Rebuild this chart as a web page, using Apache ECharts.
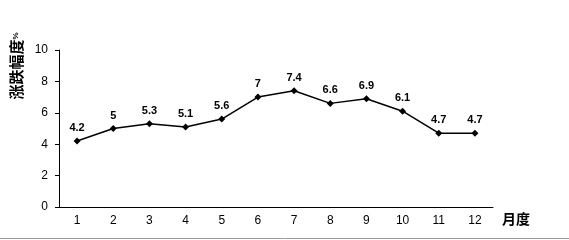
<!DOCTYPE html>
<html><head><meta charset="utf-8">
<script src="https://cdn.jsdelivr.net/npm/echarts@6/dist/echarts.min.js"></script>
<style>html,body{margin:0;padding:0;background:#fff}#c{width:569px;height:240px}</style>
</head><body><div id="c"></div>
<script>
var categories = ['1','2','3','4','5','6','7','8','9','10','11','12'];
var values = [4.2, 5, 5.3, 5.1, 5.6, 7, 7.4, 6.6, 6.9, 6.1, 4.7, 4.7];
var yTicks = [0, 2, 4, 6, 8, 10];
var yNameMain = '涨跌幅度';
var yNameUnit = '%';
var xName = '月度';

var chart = echarts.init(document.getElementById('c'));
chart.setOption({
  backgroundColor: '#fff',
  animation: false,
  grid: {left: 59, right: 76, top: 50, bottom: 33},
  xAxis: {
    type: 'category', data: categories, boundaryGap: true,
    axisLine: {lineStyle: {color: '#000', width: 1}},
    axisTick: {inside: true, length: 4, alignWithLabel: false, lineStyle: {color: '#000'}},
    axisLabel: {color: '#000', fontSize: 12, fontFamily: 'Liberation Sans', margin: 8}
  },
  yAxis: {
    type: 'value', min: yTicks[0], max: yTicks[yTicks.length-1], interval: 2,
    axisLine: {show: true, lineStyle: {color: '#000', width: 1}},
    axisTick: {show: true, inside: false, length: 4, lineStyle: {color: '#000'}},
    splitLine: {show: false},
    axisLabel: {color: '#000', fontSize: 12, fontFamily: 'Liberation Sans', margin: 11}
  },
  series: [{
    type: 'line', data: values,
    symbol: 'diamond', symbolSize: 7,
    lineStyle: {color: '#000', width: 1.5},
    itemStyle: {color: '#000'},
    label: {show: true, position: 'top', distance: 4, color: '#000', fontSize: 11, fontWeight: 'bold', fontFamily: 'Liberation Sans'}
  }],
  graphic: [
    {type: 'text', x: 16, y: 66, rotation: Math.PI/2,
     style: {text: '{a|' + yNameMain + '}{b|' + yNameUnit + '}', fill: '#000', align: 'center', verticalAlign: 'middle',
       rich: {a: {font: 'bold 15px "Noto Sans CJK SC"', fill: '#000'}, b: {font: 'bold 8px "Liberation Sans"', fill: '#000'}}}},
    {type: 'text', x: 502, y: 219,
     style: {text: xName, font: 'bold 14px "Noto Sans CJK SC"', fill: '#000', align: 'left', verticalAlign: 'middle'}},
    {type: 'line', shape: {x1: 0, y1: 238.5, x2: 569, y2: 238.5}, style: {stroke: '#999', lineWidth: 1}}
  ]
});
</script></body></html>
